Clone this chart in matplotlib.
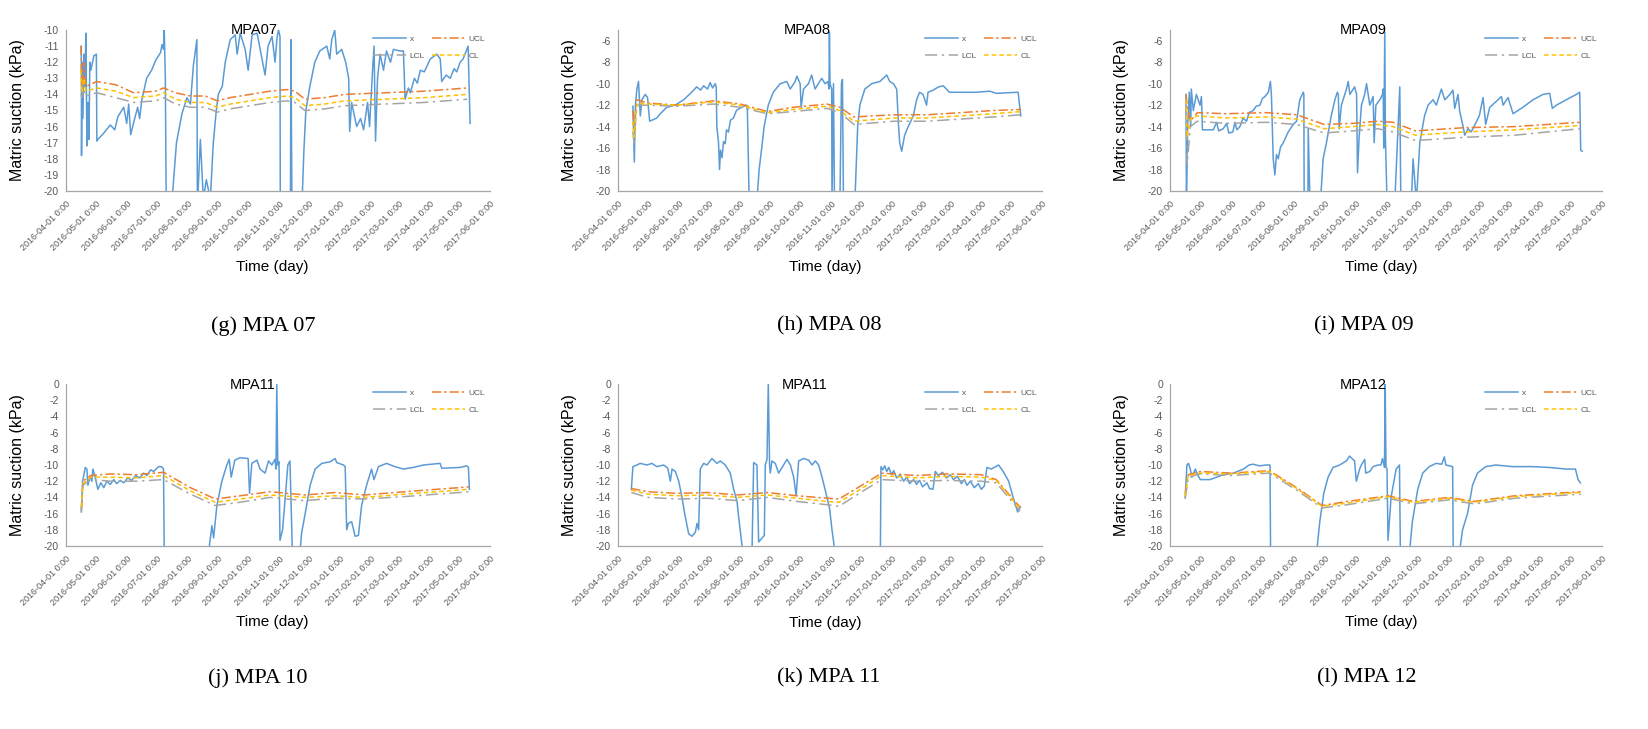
import numpy as np
import pandas as pd
import matplotlib
matplotlib.use('Agg')
import matplotlib.pyplot as plt
import matplotlib.dates as mdates

plt.rcParams['font.family'] = ['Liberation Sans', 'DejaVu Sans']
plt.rcParams['axes.unicode_minus'] = False

# day offsets from 2016-04-01, matric suction (kPa)
mpa07_x = [(15.4,-11.0),(15.6,-17.8),(16.2,-12.0),(17,-15.5),(18,-11.5),(19,-13.5),(20,-10.2),(21,-17.2),
           (22,-14.5),(23,-16.8),(24,-12.0),(25,-12.5),(28,-11.6),(30.5,-11.5),(31,-16.9),(32,-16.8),
           (38,-16.4),(44.5,-15.9),(49,-16.2),(52,-15.4),(58,-14.8),(61,-15.8),(63,-14.6),(65,-16.5),
           (69,-15.5),(72,-14.8),(74,-15.5),(76,-14.4),(81,-13.0),(86,-12.5),(90,-11.9),(95,-11.4),
           (96.5,-10.9),(98,-11.2),(98.7,-10.0),(99.8,-13.0),(100.7,-21),(106,-21),(111,-17.0),(116.5,-15.2),
           (121.5,-14.2),(125,-14.6),(128,-12.2),(131.5,-10.6),(132,-21),(135,-16.8),(138,-20.5),(141,-19.3),
           (145,-20.5),(148,-17.0),(151,-15.0),(153,-14.0),(157,-13.5),(160,-12.0),(165,-10.6),(170,-10.3),
           (172,-11.5),(175,-10.2),(180,-11.2),(183,-12.5),(187,-10.3),(192,-10.2),(200,-12.8),(203,-11.0),
           (207,-10.4),(210,-12.0),(212,-10.5),(213.5,-10.0),(215,-10.4),(215.3,-21),(225.5,-21),(226,-10.6),
           (227,-21),(237,-21),(239,-17.5),(241,-15.0),(245,-13.5),(250,-12.0),(255,-11.3),(262,-11.0),
           (265,-11.8),(267,-10.6),(270,-10.0),(272,-11.5),(277,-11.2),(281,-12.0),(284,-13.0),(285,-16.3),
           (287,-14.5),(292,-16.0),(296,-15.5),(299,-16.2),(303,-14.5),(305,-16.0),(308,-12.5),(309.5,-11.0),
           (311,-16.9),(313,-13.0),(315.6,-11.5),(319,-12.5),(322,-11.3),(326,-12.0),(329,-11.2),(335,-11.3),
           (339,-11.3),(340.7,-14.3),(344,-13.6),(346,-13.9),(350,-13.0),(353,-13.3),(356,-12.5),(360,-12.6),
           (366,-11.8),(372.5,-11.5),(376,-11.8),(377.5,-13.2),(382,-12.8),(386,-13.0),(390,-12.4),
           (392.6,-12.6),(396,-12.0),(399,-11.8),(404,-11.0),(406,-15.8)]
mpa07_days = [15, 16, 18, 20, 31, 50, 68, 90, 98, 110, 125, 140, 152, 165, 185, 205, 222, 230, 240, 260, 280, 320, 360, 403]
mpa07_ucl = [-11.0, -13.8, -12.0, -13.5, -13.2, -13.4, -13.9, -13.8, -13.6, -13.9, -14.1, -14.1, -14.4, -14.2,
             -14.0, -13.8, -13.7, -13.8, -14.3, -14.2, -14.0, -13.9, -13.8, -13.6]
mpa07_cl = [-12.5, -13.9, -13.0, -13.8, -13.6, -13.8, -14.2, -14.1, -13.9, -14.3, -14.5, -14.5, -14.8, -14.6,
            -14.4, -14.2, -14.1, -14.2, -14.7, -14.6, -14.4, -14.3, -14.2, -14.0]
mpa07_lcl = [-14.0, -14.2, -13.8, -14.1, -13.9, -14.2, -14.5, -14.4, -14.2, -14.6, -14.8, -14.8, -15.1, -14.9,
             -14.7, -14.5, -14.4, -14.5, -15.0, -14.9, -14.7, -14.6, -14.5, -14.3]

mpa08_x = [(15,-12.1),(16.4,-17.3),(17.5,-12.0),(19,-10.5),(20.6,-9.8),(22.4,-13.0),(24,-11.5),(27.4,-11.0),
           (29.7,-11.3),(31.8,-13.5),(39,-13.2),(42.5,-12.8),(49,-12.2),(57.5,-12.0),(66,-11.5),(74,-10.8),
           (79,-10.3),(83,-10.6),(86,-10.2),(90,-10.5),(92.6,-9.9),(95,-10.4),(97.7,-10.0),(98.7,-10.3),
           (99.3,-14.0),(101,-15.5),(102,-18.0),(103,-16.2),(104.5,-16.9),(106,-15.4),(107.7,-15.6),(109,-14.3),
           (111,-14.5),(113,-13.4),(116,-13.2),(119,-12.5),(124,-12.2),(128.8,-12.0),(130,-12.5),(131.8,-21),
           (139.5,-21),(141.8,-18.0),(144.4,-16.0),(146.8,-14.0),(151,-12.0),(156,-10.8),(163,-10.0),
           (169.6,-9.8),(173,-10.5),(178,-9.8),(179.7,-9.3),(183,-10.0),(184,-12.2),(186.4,-10.5),
           (191.4,-10.0),(194.6,-9.2),(198,-10.5),(201.3,-10.0),(204.7,-9.5),(208,-10.0),(211,-9.8),
           (212,-10.5),(212.4,-5.2),(213,-10.0),(214.7,-10.5),(215,-21),(216.5,-10.0),(217.5,-21),(223,-21),
           (224.5,-10.0),(225.5,-9.6),(226.5,-21),(238,-21),(240.8,-14.0),(243,-12.0),(248,-10.5),(255,-10.0),
           (263,-9.8),(270,-9.2),(273,-9.8),(276.6,-10.0),(280,-10.5),(281.6,-13.5),(283,-15.5),(285,-16.3),
           (288,-14.8),(291.6,-14.0),(296.7,-13.0),(300,-11.5),(303,-10.8),(306.5,-11.0),(310,-12.0),
           (311.5,-10.8),(316.7,-10.6),(322,-10.3),(326.8,-10.2),(333,-10.8),(340,-10.8),(360,-10.8),
           (373.6,-10.7),(380,-10.9),(402,-10.8),(404.7,-13.0)]
mpa08_days = [15, 16, 19, 30, 59, 96, 123, 150, 176, 210, 223, 237, 277, 310, 344, 377, 405]
mpa08_ucl = [-12.5, -14.5, -11.5, -11.8, -12.0, -11.6, -11.9, -12.6, -12.2, -11.9, -12.2, -13.1, -12.9, -12.9, -12.7, -12.5, -12.4]
mpa08_cl = [-13.5, -15.0, -11.8, -11.9, -12.0, -11.7, -12.0, -12.7, -12.4, -12.1, -12.5, -13.5, -13.2, -13.2, -13.0, -12.8, -12.6]
mpa08_lcl = [-14.5, -15.5, -12.0, -12.0, -12.1, -11.9, -12.2, -12.8, -12.6, -12.3, -12.7, -13.8, -13.5, -13.5, -13.3, -13.1, -12.9]

mpa09_x = [(15.8,-11.0),(16.2,-21),(17.4,-14.0),(19,-10.8),(20.4,-14.0),(21,-10.5),(23,-12.5),(26,-11.0),
           (29.6,-12.0),(31,-11.2),(32,-14.3),(42.7,-14.3),(46,-13.6),(48,-14.4),(52.5,-14.2),(55.8,-13.7),
           (58,-14.6),(62,-14.5),(64,-13.6),(66,-14.3),(69,-14.0),(72,-13.2),(75.5,-13.5),(78,-12.7),(82,-12.5),
           (85,-12.1),(88.7,-12.0),(91,-11.4),(93.6,-11.2),(97,-10.8),(99,-9.8),(100,-11.0),(101.8,-17.0),
           (103.4,-18.5),(105,-16.6),(106.7,-17.0),(109,-15.9),(111.7,-15.5),(116.6,-14.5),(121.5,-13.8),
           (124.8,-13.5),(128,-11.5),(131.4,-10.8),(132,-11.0),(132.3,-21),(136,-21),(136.3,-14.2),(138,-21),
           (148.4,-21),(151,-17.0),(154.3,-15.5),(159,-13.0),(162.6,-11.5),(165,-10.8),(166,-11.0),
           (166.8,-14.2),(169,-12.0),(172.4,-11.0),(174,-10.5),(175.7,-9.8),(177.4,-11.0),(182,-10.3),
           (184,-11.0),(184.9,-18.3),(186.5,-15.0),(188.8,-12.0),(192,-11.0),(193.8,-10.0),(197,-12.0),
           (200.3,-11.2),(201.3,-15.5),(203,-12.0),(207,-11.5),(209.5,-11.0),(210.2,-10.5),(210.8,-16.0),
           (211.8,-5.2),(212.4,-15.0),(214,-21),(221.7,-21),(226.6,-10.3),(227.6,-21),(238,-21),(239.7,-17.0),
           (243,-21),(246.3,-15.5),(251,-13.0),(254.5,-12.0),(259.4,-11.5),(262.7,-12.0),(267.6,-10.5),
           (271,-11.5),(276,-11.0),(279,-10.6),(280.8,-12.3),(284,-11.0),(285.6,-12.5),(289,-14.0),
           (290.6,-14.8),(294,-14.2),(297,-14.5),(305,-13.0),(308.7,-11.3),(311.3,-13.8),(315.3,-12.2),
           (323.5,-11.5),(326.8,-11.2),(328.5,-12.0),(333.3,-11.3),(338.3,-12.8),(348,-12.2),(358,-11.5),
           (367.8,-11.0),(374.4,-10.9),(377,-12.3),(381,-12.0),(390.8,-11.5),(400.7,-11.0),(404,-10.8),
           (405,-16.2),(406.6,-16.3)]
mpa09_days = [15.8, 17, 20, 27, 55, 95, 125, 152, 180, 205, 220, 242, 290, 340, 404]
mpa09_ucl = [-11.0, -12.0, -13.5, -12.7, -12.8, -12.7, -12.9, -13.8, -13.7, -13.5, -13.6, -14.4, -14.1, -14.0, -13.6]
mpa09_cl = [-11.5, -15.0, -13.3, -13.0, -13.2, -13.1, -13.3, -14.2, -14.0, -13.8, -14.0, -14.8, -14.5, -14.3, -13.9]
mpa09_lcl = [-12.0, -17.5, -14.0, -13.5, -13.7, -13.6, -13.8, -14.6, -14.4, -14.2, -14.5, -15.3, -15.0, -14.8, -14.2]

mpa10_x = [(15.4,-15.8),(16.7,-12.0),(19.4,-10.3),(21,-10.5),(22,-12.5),(24.4,-11.3),(26,-12.0),(27,-10.5),
           (28.7,-11.2),(32,-13.0),(35,-12.2),(38,-12.8),(41,-12.0),(44.5,-12.4),(48,-11.8),(51,-12.3),
           (54.5,-11.9),(58,-12.2),(62,-11.6),(66,-11.9),(70,-11.3),(74,-11.6),(78,-11.0),(81.3,-11.3),
           (85,-10.6),(88,-10.8),(93,-10.2),(96,-10.2),(98,-10.5),(98.7,-21),(143,-21),(146.6,-17.5),
           (148.3,-19.0),(151.6,-15.0),(156.6,-12.0),(161.6,-10.0),(164,-9.3),(166,-11.5),(169.6,-9.4),
           (175,-9.1),(183,-9.2),(184.4,-13.5),(186.7,-9.8),(191.8,-9.4),(195,-10.5),(200,-11.0),(203.5,-9.5),
           (206.8,-10.0),(210,-9.3),(211,-10.5),(211.8,0.0),(212.8,-10.0),(214,-9.6),(215,-19.3),(217.6,-18.0),
           (222.9,-10.0),(225,-9.5),(227.5,-21),(235,-21),(236.6,-18.5),(240.3,-16.0),(245.3,-12.5),
           (250.3,-10.5),(257,-9.8),(265.4,-9.6),(270.4,-9.2),(272,-9.7),(278.8,-10.0),(280.5,-10.2),(282,-18.0),
           (283.7,-17.2),(287,-17.0),(290.5,-18.8),(293.8,-18.7),(297,-15.0),(302,-12.5),(307,-10.5),
           (309.4,-11.8),(314,-10.2),(322,-9.8),(330.5,-10.2),(339,-10.5),(349,-10.3),(359,-10.0),(375.8,-9.8),
           (377.5,-10.4),(396,-10.3),(402.6,-10.1),(404.3,-10.3),(405.3,-13.0)]
mpa10_days = [15.4, 17, 25, 45, 70, 98, 125, 150, 175, 205, 240, 270, 300, 340, 405]
mpa10_ucl = [-15.5, -12.0, -11.3, -11.1, -11.2, -10.9, -12.8, -14.2, -13.8, -13.3, -13.7, -13.4, -13.7, -13.3, -12.7]
mpa10_cl = [-15.2, -12.3, -11.5, -11.5, -11.6, -11.3, -13.2, -14.6, -14.2, -13.7, -14.0, -13.8, -14.0, -13.6, -13.0]
mpa10_lcl = [-15.8, -12.5, -11.8, -12.0, -12.0, -11.8, -13.6, -15.0, -14.6, -14.0, -14.4, -14.1, -14.2, -13.9, -13.3]

mpa11_x = [(13.4,-13.0),(15,-10.2),(19,-10.0),(22.4,-9.8),(29,-10.0),(34,-9.8),(39,-10.2),(46,-10.0),
           (50,-10.4),(52.6,-12.0),(54.3,-10.5),(57.6,-10.8),(61,-12.0),(64.3,-14.0),(67,-16.0),(71,-18.5),
           (74.3,-18.8),(77.7,-18.3),(79.4,-17.2),(81,-18.0),(82.7,-10.5),(86,-9.8),(89.4,-10.0),(94.4,-9.2),
           (99.4,-9.8),(102.8,-9.5),(107.8,-10.0),(112.8,-11.0),(116.2,-13.0),(119.6,-14.5),(121.3,-16.5),
           (125.6,-21),(134.6,-21),(136.3,-9.7),(139.6,-10.0),(141.3,-19.5),(147,-18.7),(148,-10.0),(149.7,-9.3),
           (151,0.0),(152.3,-10.0),(153,-11.0),(154.7,-9.5),(158,-9.8),(161.4,-11.0),(169.8,-9.3),(173.2,-10.0),
           (176.5,-11.5),(179,-13.8),(181.5,-9.5),(186.5,-9.2),(191.6,-9.4),(195,-10.0),(198.3,-9.5),
           (201.6,-10.0),(205,-11.5),(210,-14.0),(212.7,-15.5),(215,-18.0),(218.3,-21),(263.6,-21),
           (264.2,-10.2),(266,-10.6),(268,-10.1),(270,-10.8),(272,-10.3),(275,-11.2),(277,-10.7),(280,-11.6),
           (283.6,-11.2),(287,-12.0),(290,-11.5),(293,-12.3),(297,-11.8),(300,-12.4),(303,-11.9),(306,-12.7),
           (310.4,-12.2),(313,-12.9),(316.5,-13.0),(318.8,-10.8),(322,-11.3),(326,-10.9),(330,-11.6),
           (334,-11.2),(337,-11.8),(341,-11.4),(345,-12.3),(348,-11.8),(350.6,-12.5),(354,-12.0),(358,-12.8),
           (362,-12.3),(365,-13.0),(368,-12.6),(370.7,-10.3),(375,-10.5),(382.4,-10.0),(387,-10.8),
           (392.5,-12.0),(397,-14.0),(401.5,-15.8),(404.2,-15.2)]
mpa11_days = [13.4, 30, 60, 90, 120, 150, 180, 210, 222, 245, 265, 300, 330, 365, 380, 404]
mpa11_ucl = [-12.9, -13.3, -13.5, -13.4, -13.7, -13.4, -13.8, -14.1, -14.2, -12.5, -11.0, -11.3, -11.1, -11.2, -11.8, -15.2]
mpa11_cl = [-13.1, -13.6, -13.8, -13.7, -14.0, -13.7, -14.1, -14.5, -14.6, -12.9, -11.3, -11.6, -11.4, -11.5, -11.9, -15.4]
mpa11_lcl = [-13.4, -14.0, -14.2, -14.1, -14.4, -14.0, -14.5, -14.9, -15.1, -13.3, -11.8, -12.0, -11.9, -12.0, -12.2, -15.7]

mpa12_x = [(15,-14.0),(16.7,-10.0),(18.3,-9.8),(20,-10.5),(21.6,-11.5),(25,-10.5),(26.5,-11.0),(29.8,-11.8),
           (39.6,-11.8),(46,-11.5),(52.7,-11.2),(62.5,-11.0),(72.4,-10.5),(78,-10.0),(82,-9.9),(88,-10.1),
           (95.3,-10.0),(98.6,-10.0),(99.2,-21),(144.4,-21),(147.7,-17.0),(151.6,-13.5),(155.9,-11.5),
           (160.8,-10.3),(167.3,-10.0),(173.9,-9.5),(177,-8.9),(182,-9.5),(183.7,-12.0),(187,-10.5),
           (188.7,-10.0),(192,-9.3),(193,-11.0),(197,-10.8),(200.3,-10.2),(205,-10.0),(208,-10.0),(209.5,-9.2),
           (211.5,-10.3),(212.2,0.0),(213,-10.3),(214,-10.5),(215,-19.3),(218,-14.0),(223,-10.5),(226.3,-10.0),
           (227.2,-21),(236,-21),(239,-17.0),(244.3,-13.0),(249.2,-11.0),(255.7,-10.2),(262.3,-9.8),(268,-9.9),
           (270.5,-9.0),(272,-10.0),(278.7,-10.2),(279.3,-21),(285.2,-21),(288.5,-18.0),(293.4,-16.0),
           (298.3,-12.5),(303.2,-11.0),(311.4,-10.2),(321.2,-10.0),(337.6,-10.2),(357.2,-10.2),(373.6,-10.3),
           (390,-10.5),(399.8,-10.5),(402.4,-11.8),(404.7,-12.2)]
mpa12_days = [15, 18, 30, 60, 98, 125, 150, 175, 215, 240, 275, 300, 340, 405]
mpa12_ucl = [-13.5, -11.2, -10.8, -11.0, -10.7, -12.8, -15.0, -14.5, -13.8, -14.5, -14.0, -14.5, -13.8, -13.3]
mpa12_cl = [-13.8, -11.3, -11.0, -11.1, -10.8, -12.9, -15.1, -14.7, -13.9, -14.6, -14.1, -14.6, -13.9, -13.4]
mpa12_lcl = [-14.2, -11.5, -11.1, -11.3, -11.0, -13.1, -15.3, -14.9, -14.1, -14.8, -14.3, -14.8, -14.1, -13.6]

titles = ['MPA07', 'MPA08', 'MPA09', 'MPA11', 'MPA11', 'MPA12']
captions = ['(g) MPA 07', '(h) MPA 08', '(i) MPA 09', '(j) MPA 10', '(k) MPA 11', '(l) MPA 12']
y_ranges = [(-20, -10, 1), (-20, -5, 2), (-20, -5, 2), (-20, 0, 2), (-20, 0, 2), (-20, 0, 2)]

series = [
    (mpa07_x, mpa07_days, mpa07_ucl, mpa07_cl, mpa07_lcl),
    (mpa08_x, mpa08_days, mpa08_ucl, mpa08_cl, mpa08_lcl),
    (mpa09_x, mpa09_days, mpa09_ucl, mpa09_cl, mpa09_lcl),
    (mpa10_x, mpa10_days, mpa10_ucl, mpa10_cl, mpa10_lcl),
    (mpa11_x, mpa11_days, mpa11_ucl, mpa11_cl, mpa11_lcl),
    (mpa12_x, mpa12_days, mpa12_ucl, mpa12_cl, mpa12_lcl),
]

start = pd.Timestamp('2016-04-01')
end = pd.Timestamp('2017-06-01')
month_ticks = pd.date_range(start, end, freq='MS')


def to_dates(days):
    return start + pd.to_timedelta(np.asarray(days, dtype=float), unit='D')


W, H = 1649, 729
fig = plt.figure(figsize=(W / 100, H / 100), dpi=100)

# panel boxes in pixels: left, top, right, bottom
boxes = [(66, 30, 490, 191), (618, 30, 1042, 191), (1170, 30, 1602, 191),
         (66, 384, 490, 546), (618, 384, 1042, 546), (1170, 384, 1602, 546)]
title_pos = [(254, 30), (807, 30), (1363, 30), (253, 385), (805, 385), (1363, 385)]
xlabel_pos = [(272, 267), (825, 267), (1381, 267), (272, 622), (825, 623), (1381, 622)]
caption_pos = [(263, 326), (829, 326), (1364, 326), (258, 678), (829, 678), (1367, 678)]

blue = '#5B9BD5'
orange = '#ED7D31'
grey = '#A5A5A5'
gold = '#FFC000'
txt = '#595959'

for i, (xs, ldays, ucl, cl, lcl) in enumerate(series):
    l, t, r, b = boxes[i]
    ax = fig.add_axes([l / W, 1 - b / H, (r - l) / W, (b - t) / H])
    d, v = zip(*xs)
    hx, = ax.plot(to_dates(d), v, color=blue, lw=1.1, label='x')
    ld = to_dates(ldays)
    hu, = ax.plot(ld, ucl, color=orange, lw=1.1, dashes=(6, 2, 1.5, 2), label='UCL')
    hl, = ax.plot(ld, lcl, color=grey, lw=1.1, dashes=(8, 3, 1.5, 3), label='LCL')
    hc, = ax.plot(ld, cl, color=gold, lw=1.1, dashes=(3, 2), label='CL')

    y0, y1, step = y_ranges[i]
    ax.set_ylim(y0, y1)
    ax.set_yticks(np.arange(y0, y1 + 0.01 if y1 % step == 0 else y1, step))
    ax.set_xlim(start, end)
    ax.set_xticks(month_ticks)
    ax.xaxis.set_major_formatter(mdates.DateFormatter('%Y-%m-%d 0:00'))
    for lab in ax.get_xticklabels():
        lab.set_rotation(45)
        lab.set_ha('right')
        lab.set_rotation_mode('anchor')
    ax.tick_params(axis='x', length=0, pad=6, labelsize=6.5, labelcolor=txt)
    ax.tick_params(axis='y', length=0, pad=5, labelsize=7.5, labelcolor=txt)
    for s in ['top', 'right']:
        ax.spines[s].set_visible(False)
    for s in ['left', 'bottom']:
        ax.spines[s].set_color('#A6A6A6')
        ax.spines[s].set_linewidth(0.9)

    ax.set_ylabel('Matric suction (kPa)', fontsize=11.5)
    ax.yaxis.set_label_coords(-41 / (r - l), 0.5)

    leg = ax.legend([hx, hl, hu, hc], ['x', 'LCL', 'UCL', 'CL'], ncol=2, loc='upper right',
                    bbox_to_anchor=(1.0, 1.0), frameon=False, fontsize=6, handlelength=4,
                    labelspacing=1.1, columnspacing=0.8, handletextpad=0.4, borderaxespad=0.2)
    for tx in leg.get_texts():
        tx.set_color(txt)

    tx_, ty_ = title_pos[i]
    fig.text(tx_ / W, 1 - ty_ / H, titles[i], ha='center', va='center', fontsize=10.5)
    xx, xy = xlabel_pos[i]
    fig.text(xx / W, 1 - xy / H, 'Time (day)', ha='center', va='center', fontsize=11)
    cx, cy = caption_pos[i]
    fig.text(cx / W, 1 - cy / H, captions[i], ha='center', va='center', fontsize=16,
             family=['Liberation Serif', 'DejaVu Serif'])

fig.savefig('out.png', dpi=100, facecolor='white')
